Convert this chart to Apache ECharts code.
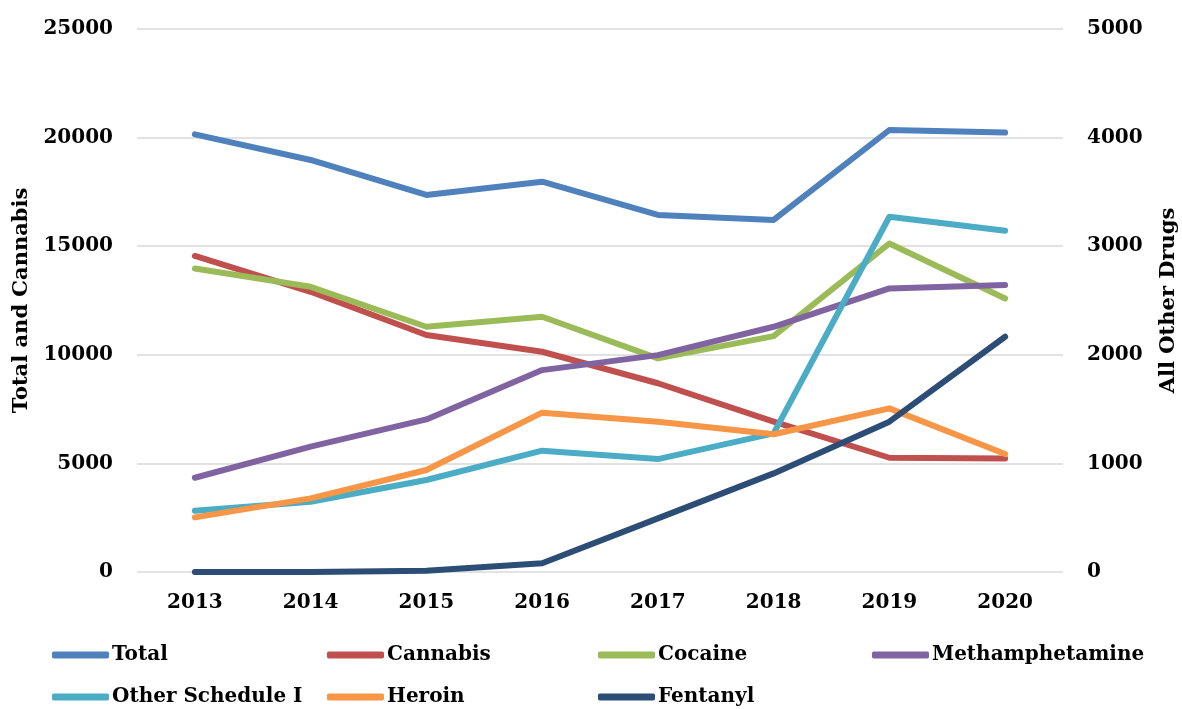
<!DOCTYPE html>
<html>
<head>
<meta charset="utf-8">
<script src="https://cdn.jsdelivr.net/npm/echarts@6/dist/echarts.min.js"></script>
<style>html,body{margin:0;padding:0;background:#fff}#c{width:1182px;height:709px}</style>
</head>
<body>
<div id="c"></div>
<script>
const years = ['2013','2014','2015','2016','2017','2018','2019','2020'];
const total = [20150, 18970, 17360, 17970, 16440, 16210, 20350, 20230];
const cannabis = [14550, 12900, 10910, 10140, 8690, 6920, 5260, 5230];
const cocaine = [2795, 2626, 2258, 2350, 1967, 2172, 3025, 2519];
const meth = [868, 1154, 1405, 1859, 1997, 2258, 2611, 2642];
const otherSched = [564, 647, 847, 1117, 1040, 1277, 3271, 3142];
const heroin = [503, 678, 939, 1467, 1384, 1268, 1507, 1086];
const fentanyl = [0, 0, 12, 80, 494, 908, 1384, 2166];

const names = ['Total','Cannabis','Cocaine','Methamphetamine','Other Schedule I','Heroin','Fentanyl'];
const colors = ['#4F81BD','#C0504D','#9BBB59','#8064A2','#4BACC6','#F79646','#2C4D75'];
const dataSets = [total, cannabis, cocaine, meth, otherSched, heroin, fentanyl];
const axisIdx = [0,0,1,1,1,1,1];
const legendPos = [[52,643],[327,643],[598,643],[872,643],[52,685],[327,685],[598,685]];

const font = 'DejaVu Serif';
const lbl = {fontFamily: font, fontWeight: 'bold', fontSize: 20, color: '#000'};
const chart = echarts.init(document.getElementById('c'));
chart.setOption({
  animation: false,
  backgroundColor: '#fff',
  grid: {left: 137, right: 119, top: 29, bottom: 137, containLabel: false, outerBoundsMode: 'none'},
  xAxis: {
    type: 'category', data: years, boundaryGap: true,
    axisLine: {show: false}, axisTick: {show: false},
    axisLabel: Object.assign({margin: 21}, lbl)
  },
  yAxis: [{
    type: 'value', min: 0, max: 25000, interval: 5000,
    name: 'Total and Cannabis', nameLocation: 'middle', nameGap: 94, nameRotate: 90,
    nameTextStyle: {fontFamily: font, fontWeight: 'bold', fontSize: 21, color: '#000'},
    axisLine: {show: false}, axisTick: {show: false},
    axisLabel: Object.assign({margin: 24, formatter: v => String(v)}, lbl),
    splitLine: {lineStyle: {color: '#D9D9D9', width: 1.5}}
  }, {
    type: 'value', min: 0, max: 5000, interval: 1000, position: 'right',
    name: 'All Other Drugs', nameLocation: 'middle', nameGap: 95, nameRotate: 90,
    nameTextStyle: {fontFamily: font, fontWeight: 'bold', fontSize: 21, color: '#000'},
    axisLine: {show: false}, axisTick: {show: false},
    axisLabel: Object.assign({margin: 24, formatter: v => String(v)}, lbl),
    splitLine: {show: false}
  }],
  legend: names.map((n, i) => ({
    data: [n], left: legendPos[i][0], top: legendPos[i][1],
    icon: 'roundRect', itemWidth: 57, itemHeight: 7, padding: 0,
    textStyle: {fontFamily: font, fontWeight: 'bold', fontSize: 20, color: '#000', lineHeight: 24, padding: [0,0,0,-2]}
  })),
  series: names.map((n, i) => ({
    name: n, type: 'line', data: dataSets[i], yAxisIndex: axisIdx[i],
    symbol: 'none', showSymbol: false,
    lineStyle: {width: 6, color: colors[i], cap: 'round', join: 'round'},
    itemStyle: {color: colors[i]}
  }))
});
</script>
</body>
</html>
